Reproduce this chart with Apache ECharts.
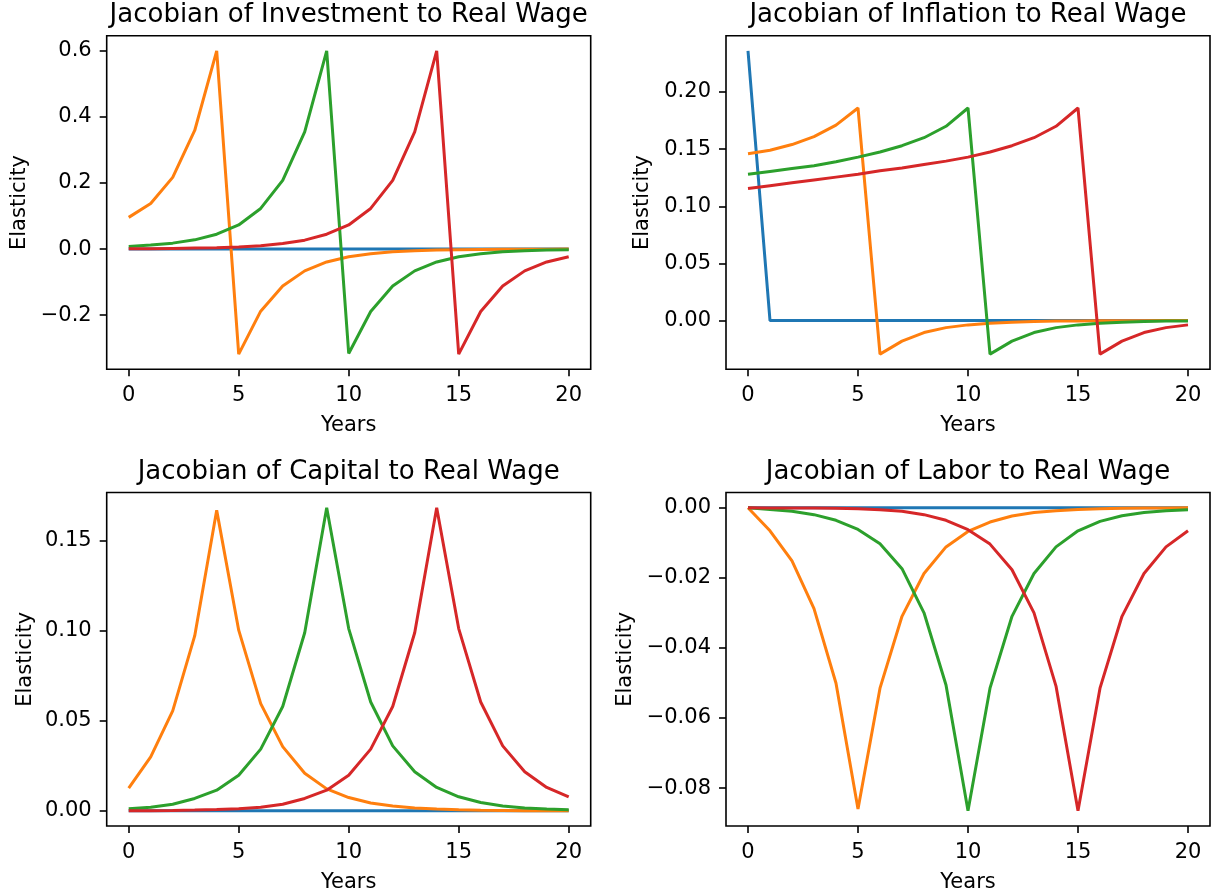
<!DOCTYPE html>
<html>
<head>
<meta charset="utf-8">
<script src="https://cdn.jsdelivr.net/npm/echarts@6/dist/echarts.min.js"></script>
<style>
html,body{margin:0;padding:0;background:#fff;}
#chart{width:1212px;height:894px;}
</style>
</head>
<body>
<div id="chart"></div>
<script>
// ---------- data ----------
const years = [0,1,2,3,4,5,6,7,8,9,10,11,12,13,14,15,16,17,18,19,20];
const xTicks = [0,5,10,15,20];

const zeros = [0,0,0,0,0,0,0,0,0,0,0,0,0,0,0,0,0,0,0,0,0];

// Investment
const invBlue   = zeros;
const invOrange = [0.096,0.138,0.217,0.359,0.600,-0.318,-0.188,-0.112,-0.066,-0.039,-0.023,-0.014,-0.008,-0.005,-0.003,-0.002,-0.001,-0.0007,-0.0004,-0.0002,-0.0001];
const invGreen  = [0.008,0.012,0.018,0.028,0.045,0.073,0.123,0.208,0.355,0.600,-0.316,-0.189,-0.112,-0.066,-0.039,-0.023,-0.014,-0.008,-0.005,-0.003,-0.002];
const invRed    = [0.001,0.001,0.002,0.003,0.004,0.006,0.010,0.017,0.027,0.045,0.073,0.123,0.208,0.355,0.600,-0.318,-0.189,-0.112,-0.066,-0.039,-0.023];
const invTicks  = [-0.2,0,0.2,0.4,0.6];

// Inflation
const infBlue   = [0.236,0,0,0,0,0,0,0,0,0,0,0,0,0,0,0,0,0,0,0,0];
const infOrange = [0.146,0.149,0.154,0.161,0.171,0.186,-0.0294,-0.018,-0.0105,-0.0062,-0.0038,-0.0023,-0.0014,-0.0008,-0.0005,-0.0003,-0.0002,-0.0001,-0.0001,0,0];
const infGreen  = [0.128,0.1305,0.133,0.1355,0.139,0.143,0.1475,0.153,0.160,0.170,0.186,-0.0294,-0.018,-0.0105,-0.0062,-0.0038,-0.0023,-0.0014,-0.0008,-0.0005,-0.0003];
const infRed    = [0.1155,0.118,0.1205,0.123,0.1255,0.128,0.131,0.1335,0.1365,0.1395,0.143,0.1475,0.153,0.160,0.170,0.186,-0.0294,-0.018,-0.0105,-0.0062,-0.0038];
const infTicks  = [0,0.05,0.10,0.15,0.20];

// Capital
const capBlue   = zeros;
const capOrange = [0.0126,0.030,0.0556,0.0972,0.167,0.1004,0.0596,0.0357,0.0209,0.0122,0.0074,0.0044,0.0027,0.0016,0.001,0.0006,0.0003,0.0002,0.0001,0.0001,0];
const capGreen  = [0.0012,0.002,0.0037,0.0069,0.0115,0.0198,0.0343,0.058,0.099,0.1685,0.1013,0.0605,0.0361,0.0217,0.013,0.0078,0.0046,0.0027,0.0016,0.001,0.0006];
const capRed    = [0.0001,0.0001,0.0002,0.0004,0.0007,0.0012,0.002,0.0037,0.0069,0.0115,0.0198,0.0343,0.058,0.099,0.1685,0.1013,0.0605,0.0361,0.0217,0.013,0.0077];
const capTicks  = [0,0.05,0.10,0.15];

// Labor
const labBlue   = zeros;
const labOrange = [0,-0.0066,-0.0152,-0.0288,-0.0501,-0.086,-0.0515,-0.031,-0.0188,-0.0112,-0.0068,-0.0041,-0.0024,-0.0014,-0.0009,-0.0005,-0.0003,-0.0002,-0.0001,-0.0001,0];
const labGreen  = [0,-0.0005,-0.001,-0.002,-0.0036,-0.0062,-0.0103,-0.0174,-0.030,-0.0506,-0.0865,-0.0515,-0.031,-0.0188,-0.0112,-0.0066,-0.0039,-0.0023,-0.0014,-0.0009,-0.0006];
const labRed    = [0,-0.0001,-0.0001,-0.0001,-0.0002,-0.0003,-0.0006,-0.001,-0.002,-0.0036,-0.0063,-0.0104,-0.0177,-0.030,-0.0509,-0.0865,-0.0515,-0.031,-0.0188,-0.0112,-0.0066];
const labTicks  = [-0.08,-0.06,-0.04,-0.02,0];

const titles = [
  'Jacobian of Investment to Real Wage',
  'Jacobian of Inflation to Real Wage',
  'Jacobian of Capital to Real Wage',
  'Jacobian of Labor to Real Wage'
];
const xName = 'Years';
const yName = 'Elasticity';

// ---------- build ----------
const colors = ['#1f77b4','#ff7f0e','#2ca02c','#d62728'];
const FONT = 'DejaVu Sans';
const panels = [
  {series:[invBlue,invOrange,invGreen,invRed], ticks:invTicks, dec:1, left:106.7, top:35.7, gap:77},
  {series:[infBlue,infOrange,infGreen,infRed], ticks:infTicks, dec:2, left:726,   top:35.7, gap:73},
  {series:[capBlue,capOrange,capGreen,capRed], ticks:capTicks, dec:2, left:106.7, top:492.5, gap:71},
  {series:[labBlue,labOrange,labGreen,labRed], ticks:labTicks, dec:2, left:726,   top:492.5, gap:90}
];
const W = 484, H = 333.6;

function fmt(v, d){
  const s = Math.abs(v).toFixed(d);
  return (v < -1e-12 ? '\u2212' : '') + s;
}

const grid=[], xAxis=[], yAxis=[], series=[], graphic=[];
panels.forEach((p,i)=>{
  let mn=Infinity,mx=-Infinity;
  p.series.forEach(s=>s.forEach(v=>{mn=Math.min(mn,v);mx=Math.max(mx,v);}));
  const r = mx-mn;
  const ymin = mn-0.05*r, ymax = mx+0.05*r;
  grid.push({left:p.left, top:p.top, width:W, height:H, show:true, borderColor:'#000', borderWidth:1.6, backgroundColor:'transparent', containLabel:false});
  xAxis.push({
    type:'value', gridIndex:i, min:-1, max:21,
    name:xName, nameLocation:'middle', nameGap:46,
    nameTextStyle:{fontFamily:FONT, fontSize:21, color:'#000'},
    axisLine:{show:false, onZero:false}, splitLine:{show:false},
    axisTick:{show:true, inside:false, length:7, lineStyle:{color:'#000', width:1.6}, customValues:xTicks},
    axisLabel:{fontFamily:FONT, fontSize:21, color:'#000', margin:16, customValues:xTicks, formatter:v=>String(v)}
  });
  yAxis.push({
    type:'value', gridIndex:i, min:ymin, max:ymax,
    name:yName, nameLocation:'middle', nameGap:p.gap, nameRotate:90,
    nameTextStyle:{fontFamily:FONT, fontSize:21, color:'#000'},
    axisLine:{show:false, onZero:false}, splitLine:{show:false},
    axisTick:{show:true, inside:false, length:7, lineStyle:{color:'#000', width:1.6}, customValues:p.ticks},
    axisLabel:{fontFamily:FONT, fontSize:21, color:'#000', margin:15, customValues:p.ticks, formatter:v=>fmt(v,p.dec)}
  });
  p.series.forEach((s,k)=>{
    series.push({
      type:'line', xAxisIndex:i, yAxisIndex:i,
      data: years.map((x,j)=>[x,s[j]]),
      showSymbol:false, symbol:'none',
      lineStyle:{color:colors[k], width:3},
      itemStyle:{color:colors[k]},
      emphasis:{disabled:true}, silent:true, clip:false
    });
  });
  graphic.push({
    type:'text', x:p.left+W/2, y:p.top-20,
    style:{text:titles[i], fontFamily:FONT, fontSize:26, fill:'#000', textAlign:'center', textVerticalAlign:'middle'}
  });
});

const chart = echarts.init(document.getElementById('chart'), null, {renderer:'canvas'});
chart.setOption({
  animation:false,
  backgroundColor:'#fff',
  grid, xAxis, yAxis, series, graphic
});
</script>
</body>
</html>
